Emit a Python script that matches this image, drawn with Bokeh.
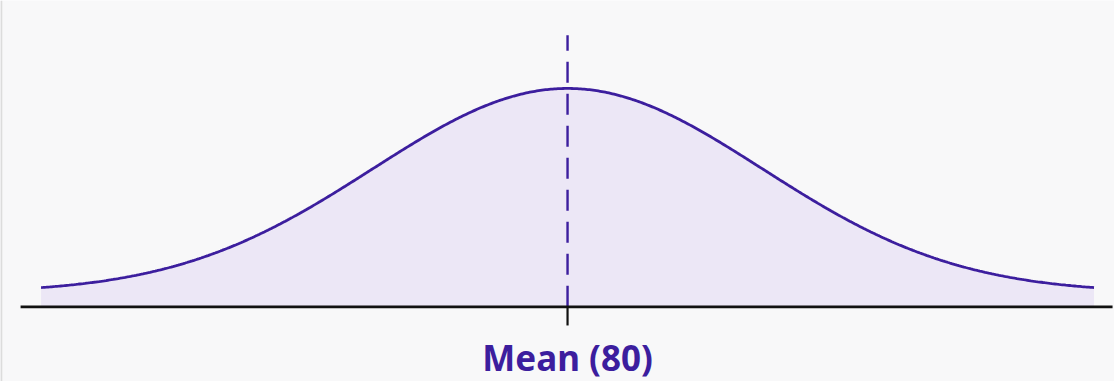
import numpy as np
from bokeh.plotting import figure
from bokeh.models import Range1d, ColumnDataSource
from bokeh.core.properties import value
from bokeh.embed import file_html
from bokeh.resources import INLINE

# Distribution parameters
MEAN = 80
SD = 10
X_MIN, X_MAX = 53, 107
LABEL = "Mean (80)"

PURPLE = "#3c1e9e"
FILL = "#ece7f6"
BG = "#f8f8f9"

x = np.linspace(X_MIN, X_MAX, 600)
density = np.exp(-0.5 * ((x - MEAN) / SD) ** 2) / (SD * np.sqrt(2 * np.pi))
peak = 1 / (SD * np.sqrt(2 * np.pi))

# axis line sits a little below the zero of the density
base_y = -0.068 * peak

src = ColumnDataSource(dict(x=x, y=density, base=np.full_like(x, base_y)))

p = figure(width=1114, height=381, output_backend="svg", toolbar_location=None,
           x_range=Range1d(50.92, 108.05),
           y_range=Range1d(-0.433 * peak, 1.430 * peak),
           min_border=0, background_fill_color=BG, border_fill_color=BG,
           outline_line_color=None)
p.axis.visible = False
p.grid.visible = False

# shaded area under the curve
p.varea(x="x", y1="base", y2="y", source=src, fill_color=FILL)

# density curve
p.line(x="x", y="y", source=src, line_color=PURPLE, line_width=2.8)

# dashed marker at the mean
p.segment(x0=[MEAN], y0=[base_y], x1=[MEAN], y1=[1.26 * peak],
          line_color=PURPLE, line_width=2.4, line_dash="21 11")

# horizontal axis line and tick at the mean
p.segment(x0=[51.95], y0=[base_y], x1=[107.95], y1=[base_y],
          line_color="#111111", line_width=2.8)
p.segment(x0=[MEAN], y0=[base_y], x1=[MEAN], y1=[-0.159 * peak],
          line_color="#111111", line_width=2.2)

# left edge rule
p.segment(x0=[50.96], y0=[-0.433 * peak], x1=[50.96], y1=[1.430 * peak],
          line_color="#dcdcdc", line_width=2)

p.text(x=[MEAN], y=[-0.315 * peak], text=[LABEL],
       text_font=value("Noto Sans"), text_font_style="bold",
       text_font_size="35px", text_color=PURPLE,
       text_align="center", text_baseline="middle")

open("out.html", "w").write(file_html(p, INLINE))
